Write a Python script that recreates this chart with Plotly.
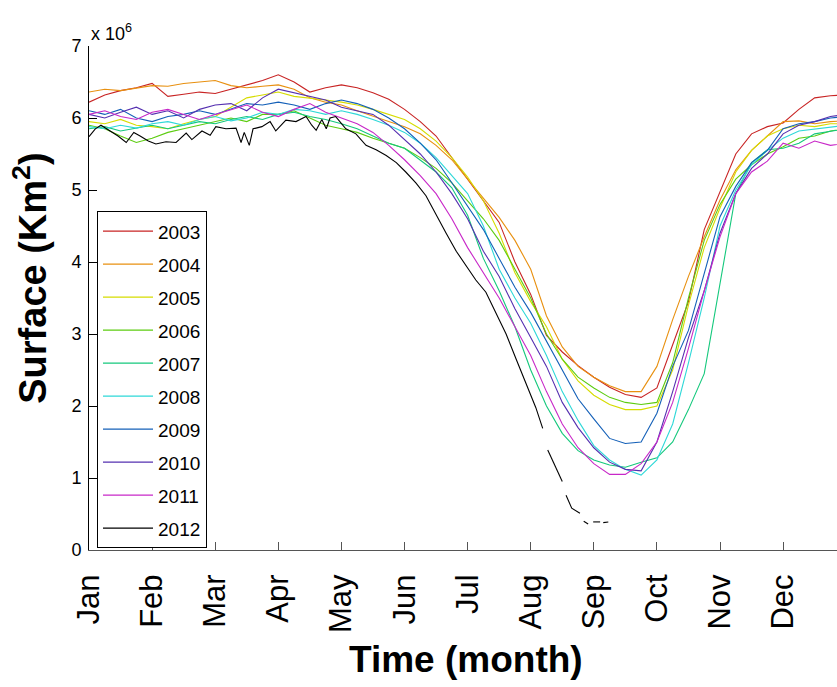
import plotly.graph_objects as go

# Time axis: fraction of months since 1 January (0 = Jan, 1 = Feb, ...), quarter-month sampling
months = [i * 0.25 for i in range(49)]

month_labels = ["Jan", "Feb", "Mar", "Apr", "May", "Jun",
                "Jul", "Aug", "Sep", "Oct", "Nov", "Dec"]
month_ticks = list(range(12))
y_ticks = [0, 1, 2, 3, 4, 5, 6, 7]

# Surface values in units of 10^6 km^2
s2003 = [6.22, 6.32, 6.38, 6.42, 6.48, 6.30, 6.33, 6.36, 6.34, 6.40, 6.45, 6.52, 6.60,
         6.50, 6.36, 6.42, 6.46, 6.42, 6.35, 6.26, 6.12, 5.95, 5.75, 5.45, 5.15, 4.85,
         4.55, 4.00, 3.55, 2.98, 2.75, 2.56, 2.40, 2.26, 2.16, 2.12, 2.25, 2.85, 3.45,
         4.45, 4.98, 5.50, 5.78, 5.88, 5.93, 6.12, 6.28, 6.31, 6.32]
s2004 = [6.36, 6.40, 6.38, 6.42, 6.45, 6.44, 6.48, 6.50, 6.52, 6.45, 6.42, 6.44, 6.46,
         6.40, 6.28, 6.22, 6.18, 6.10, 6.02, 5.95, 5.88, 5.78, 5.62, 5.42, 5.15, 4.88,
         4.62, 4.30, 3.90, 3.25, 2.82, 2.55, 2.40, 2.28, 2.20, 2.20, 2.55, 3.20, 3.80,
         4.35, 4.86, 5.28, 5.55, 5.75, 5.95, 5.96, 5.92, 5.95, 5.96]
s2005 = [5.95, 5.92, 5.98, 5.90, 5.88, 5.85, 5.92, 5.98, 6.02, 6.15, 6.28, 6.32, 6.36,
         6.30, 6.28, 6.25, 6.22, 6.18, 6.12, 6.05, 5.98, 5.85, 5.68, 5.45, 5.18, 4.85,
         4.40, 3.85, 3.45, 3.10, 2.65, 2.35, 2.15, 2.02, 1.95, 1.95, 2.00, 2.50, 3.40,
         4.20, 4.75, 5.25, 5.55, 5.75, 5.85, 5.90, 5.88, 5.92, 5.92]
s2006 = [5.90, 5.85, 5.75, 5.66, 5.72, 5.80, 5.85, 5.90, 5.95, 6.00, 5.95, 6.05, 6.05,
         6.10, 6.00, 5.90, 5.85, 5.80, 5.72, 5.65, 5.58, 5.45, 5.30, 5.10, 4.85, 4.60,
         4.30, 3.90, 3.50, 3.00, 2.65, 2.40, 2.25, 2.12, 2.05, 2.02, 2.05, 2.60, 3.50,
         4.30, 4.80, 5.15, 5.35, 5.50, 5.60, 5.72, 5.75, 5.82, 5.85]
s2007 = [5.85, 5.88, 5.82, 5.86, 5.90, 5.85, 5.90, 5.95, 5.92, 5.98, 6.02, 5.98, 6.05,
         6.08, 6.02, 5.98, 5.92, 5.85, 5.75, 5.65, 5.58, 5.42, 5.25, 5.03, 4.65, 4.05,
         3.60, 3.10, 2.50, 2.00, 1.62, 1.38, 1.25, 1.18, 1.15, 1.22, 1.28, 1.50, 1.95,
         2.45, 3.70, 4.95, 5.38, 5.56, 5.58, 5.65, 5.78, 5.82, 5.85]
s2008 = [5.88, 5.85, 5.90, 5.86, 5.92, 5.95, 5.90, 5.98, 6.02, 5.96, 6.00, 6.08, 6.05,
         6.12, 6.10, 6.05, 6.10, 6.05, 5.98, 5.90, 5.80, 5.65, 5.45, 5.20, 4.95, 4.50,
         3.90, 3.50, 3.15, 2.70, 2.20, 1.80, 1.45, 1.25, 1.12, 1.04, 1.25, 1.75, 2.60,
         3.50, 4.50, 5.00, 5.35, 5.55, 5.72, 5.82, 5.85, 5.88, 5.90]
s2009 = [6.10, 6.05, 6.12, 6.00, 5.95, 6.02, 6.05, 6.10, 6.05, 6.12, 6.20, 6.18, 6.22,
         6.18, 6.12, 6.20, 6.25, 6.20, 6.12, 6.00, 5.85, 5.65, 5.42, 5.10, 4.78, 4.45,
         4.05, 3.65, 3.30, 2.90, 2.50, 2.10, 1.82, 1.55, 1.48, 1.50, 1.90, 2.55, 3.05,
         3.85, 4.63, 5.05, 5.38, 5.55, 5.85, 5.92, 5.95, 6.00, 6.02]
s2010 = [6.05, 6.00, 6.08, 6.15, 6.05, 6.10, 6.00, 6.12, 6.18, 6.20, 6.10, 6.28, 6.40,
         6.35, 6.30, 6.25, 6.15, 6.10, 6.05, 5.90, 5.70, 5.50, 5.25, 4.95, 4.60, 4.15,
         3.80, 3.35, 2.95, 2.55, 2.05, 1.70, 1.42, 1.22, 1.12, 1.10, 1.50, 2.20, 2.95,
         3.60, 4.40, 4.95, 5.30, 5.50, 5.78, 5.90, 5.95, 6.02, 6.05]
s2011 = [6.05, 6.10, 6.02, 5.98, 6.08, 6.12, 6.05, 5.98, 6.05, 6.12, 6.18, 6.08, 6.02,
         6.12, 6.20, 6.08, 6.00, 5.92, 5.80, 5.62, 5.42, 5.20, 4.95, 4.60, 4.20, 3.85,
         3.50, 3.10, 2.70, 2.20, 1.75, 1.42, 1.20, 1.05, 1.05, 1.20, 1.50, 2.05, 2.80,
         3.60, 4.35, 4.95, 5.25, 5.40, 5.65, 5.58, 5.68, 5.62, 5.65]

# 2012 record has its own (denser) time stamps and data gaps (None)
x2012 = [0.00, 0.10, 0.19, 0.33, 0.46, 0.59, 0.71, 0.81, 0.94, 1.06, 1.22, 1.38, 1.54,
         1.63, 1.79, 1.92, 2.01, 2.17, 2.33, 2.41, 2.46, 2.54, 2.60, 2.74, 2.87, 2.96,
         3.12, 3.28, 3.44, 3.53, 3.60, 3.69, 3.76, 3.82, 3.91, 4.07, 4.23, 4.39, 4.55,
         4.71, 4.87, 5.02, 5.18, 5.34, 5.50, 5.66, 5.82, 5.97, 6.13, 6.29, 6.45, 6.61,
         6.77, 6.93, 7.08, 7.19, 7.23, 7.27, 7.40, 7.50, 7.53, 7.56, 7.65, 7.78, 7.81,
         7.84, 7.91, 7.95, 7.99, 8.10, 8.12, 8.15, 8.23]
s2012 = [5.74, 5.85, 5.90, 5.82, 5.75, 5.66, 5.80, 5.75, 5.68, 5.64, 5.67, 5.66, 5.79,
         5.70, 5.82, 5.76, 5.88, 5.85, 5.86, 5.66, 5.80, 5.62, 5.85, 5.88, 5.95, 5.82,
         5.97, 5.95, 6.02, 5.90, 5.83, 5.98, 5.85, 6.00, 6.02, 5.85, 5.78, 5.62, 5.56,
         5.48, 5.38, 5.25, 5.10, 4.92, 4.65, 4.40, 4.15, 3.95, 3.75, 3.58, 3.30, 3.00,
         2.65, 2.30, 1.98, 1.69, None, 1.39, 1.15, 0.95, None, 0.76, 0.58, 0.51, None,
         0.40, 0.36, None, 0.39, 0.39, None, 0.38, 0.39]

years = ["2003", "2004", "2005", "2006", "2007", "2008", "2009", "2010", "2011", "2012"]
colors = ["#c82424", "#e89010", "#d6dc00", "#5ccc10", "#14c87c", "#2ed8d8",
          "#1460b8", "#5530b0", "#c828c8", "#000000"]
series = [s2003, s2004, s2005, s2006, s2007, s2008, s2009, s2010, s2011, s2012]

FONT = "Liberation Sans, Arial, Helvetica, sans-serif"

fig = go.Figure()
for yr, col, vals in zip(years, colors, series):
    xs = x2012 if yr == "2012" else months
    fig.add_trace(go.Scatter(
        x=xs, y=vals, mode="lines", name=yr,
        line=dict(color=col, width=1.1),
        connectgaps=False, legendgroup=yr,
    ))

fig.update_layout(
    width=837, height=687,
    margin=dict(l=89, r=0, t=46, b=137),
    plot_bgcolor="white", paper_bgcolor="white",
    font=dict(family=FONT, color="black"),
    showlegend=True,
    legend=dict(
        x=0.0107, y=0.672, xanchor="left", yanchor="top",
        bordercolor="black", borderwidth=1, bgcolor="white",
        font=dict(size=19, family=FONT), tracegroupgap=5.3, itemwidth=50,
    ),
    xaxis=dict(
        range=[0, 11.854], tickvals=month_ticks, ticktext=month_labels,
        tickangle=-90, tickfont=dict(size=31, family=FONT),
        ticks="inside", ticklen=8, tickcolor="#555555", tickwidth=1,
        showline=True, linecolor="#555555", linewidth=1,
        showgrid=False, zeroline=False, ticklabelstandoff=11,
    ),
    yaxis=dict(
        range=[0, 7], tickvals=y_ticks, ticktext=[str(v) for v in y_ticks],
        tickfont=dict(size=18, family=FONT),
        ticks="inside", ticklen=8, tickcolor="black", tickwidth=1,
        showline=True, linecolor="black", linewidth=1,
        showgrid=False, zeroline=False, ticklabelstandoff=3,
    ),
    annotations=[
        dict(text="x 10<sup>6</sup>", xref="paper", yref="paper", x=0.0, y=1.0,
             xanchor="left", yanchor="bottom", showarrow=False,
             font=dict(size=18, family=FONT)),
        dict(text="<b>Surface (Km<sup>2</sup>)</b>", xref="paper", yref="paper",
             x=-0.079, y=0.54, xanchor="center", yanchor="middle", textangle=-90,
             showarrow=False, font=dict(size=38, family=FONT)),
        dict(text="<b>Time (month)</b>", xref="paper", yref="paper",
             x=0.504, y=-0.218, xanchor="center", yanchor="middle",
             showarrow=False, font=dict(size=37, family=FONT)),
    ],
)

fig.write_html("out.html")
